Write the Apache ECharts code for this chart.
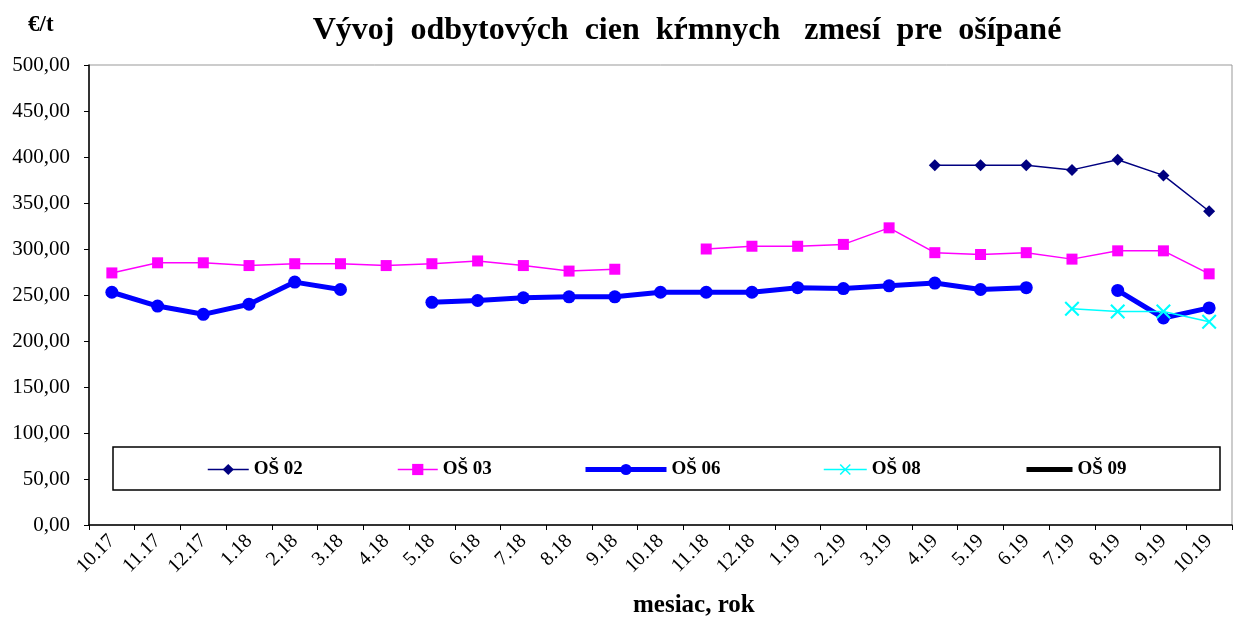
<!DOCTYPE html>
<html>
<head>
<meta charset="utf-8">
<script src="https://cdn.jsdelivr.net/npm/echarts@6/dist/echarts.min.js"></script>
<style>html,body{margin:0;padding:0;background:#fff;}#c{width:1235px;height:621px;}</style>
</head>
<body>
<div id="c"></div>
<script>
const categories = ['10.17','11.17','12.17','1.18','2.18','3.18','4.18','5.18','6.18','7.18','8.18','9.18','10.18','11.18','12.18','1.19','2.19','3.19','4.19','5.19','6.19','7.19','8.19','9.19','10.19'];
const os02 = [null,null,null,null,null,null,null,null,null,null,null,null,null,null,null,null,null,null,391,391,391,386,397,380,341];
const os03 = [274,285,285,282,284,284,282,284,287,282,276,278,null,300,303,303,305,323,296,294,296,289,298,298,273];
const os06 = [253,238,229,240,264,256,null,242,244,247,248,248,253,253,253,258,257,260,263,256,258,null,255,225,236];
const os08 = [null,null,null,null,null,null,null,null,null,null,null,null,null,null,null,null,null,null,null,null,null,235,232,232,221];
const os09 = [null,null,null,null,null,null,null,null,null,null,null,null,null,null,null,null,null,null,null,null,null,null,null,null,null];
const seriesNames = ['OŠ 02','OŠ 03','OŠ 06','OŠ 08','OŠ 09'];
const yTicks = {min:0,max:500,interval:50};

const serif = '"Liberation Serif","Times New Roman",serif';
const crossPath = 'path://M0,1 L1,0 L5,4 L9,0 L10,1 L6,5 L10,9 L9,10 L5,6 L1,10 L0,9 L4,5 Z';

const chart = echarts.init(document.getElementById('c'), null, {renderer:'canvas'});
const legendCfg = [
  {left:207, w:41, lw:1.5},
  {left:397, w:40, lw:1.5},
  {left:583, w:81, lw:5},
  {left:823, w:43, lw:1.5},
  {left:1024, w:46, lw:5, hideMark:true}
];
const legends = seriesNames.map((n,i)=>{
  const c = legendCfg[i];
  const item = {name:n};
  if (c.hideMark) item.itemStyle = {opacity:0};
  return {
    data:[item], left:c.left, top:460, orient:'horizontal', z:10,
    itemWidth:c.w, itemHeight:14, padding:0, itemGap:0,
    lineStyle:{width:c.lw},
    textStyle:{fontFamily:serif, fontWeight:'bold', fontSize:19, color:'#000'}
  };
});
chart.setOption({
  animation:false,
  backgroundColor:'#fff',
  title:{text:'Vývoj  odbytových  cien  kŕmnych   zmesí  pre  ošípané', left:682, textAlign:'center', top:10,
    textStyle:{fontFamily:serif, fontWeight:'bold', fontSize:32, color:'#000'}},
  graphic:[
    {type:'text', left:28, top:14, style:{text:'€/t', font:'bold 23px '+serif, fill:'#000'}},
    {type:'text', left:633, top:593, style:{text:'mesiac, rok', font:'bold 25px '+serif, fill:'#000'}},
    {type:'rect', shape:{x:113, y:447, width:1107, height:43}, style:{fill:'#fff', stroke:'#000', lineWidth:1.5}, z:0}
  ],
  legend: legends,
  grid:{left:89, right:3, top:65, bottom:96, show:true, borderColor:'#999', borderWidth:1, containLabel:false},
  xAxis:{type:'category', data:categories, boundaryGap:true,
    axisLine:{lineStyle:{color:'#000', width:1.5}},
    axisTick:{show:true, length:5, inside:false, lineStyle:{color:'#000'}},
    axisLabel:{rotate:45, fontFamily:serif, fontSize:20, color:'#000', margin:13, interval:0},
    splitLine:{show:false}},
  yAxis:{type:'value', min:yTicks.min, max:yTicks.max, interval:yTicks.interval,
    axisLine:{show:true, lineStyle:{color:'#000', width:1.5}},
    axisTick:{show:true, length:5, lineStyle:{color:'#000'}},
    axisLabel:{fontFamily:serif, fontSize:21, color:'#000', margin:19,
      formatter:v=>v.toFixed(2).replace('.',',')},
    splitLine:{show:false}},
  series:[
    {name:seriesNames[0], type:'line', data:os02, connectNulls:false, symbol:'diamond', symbolSize:12,
      itemStyle:{color:'#000080'}, lineStyle:{color:'#000080', width:1.5}, z:3},
    {name:seriesNames[1], type:'line', data:os03, connectNulls:false, symbol:'rect', symbolSize:11,
      itemStyle:{color:'#FF00FF'}, lineStyle:{color:'#FF00FF', width:1.5}, z:3},
    {name:seriesNames[2], type:'line', data:os06, connectNulls:false, symbol:'circle', symbolSize:13,
      itemStyle:{color:'#0000FF'}, lineStyle:{color:'#0000FF', width:5}, z:3},
    {name:seriesNames[3], type:'line', data:os08, connectNulls:false, symbol:crossPath, symbolSize:15,
      itemStyle:{color:'#00FFFF'}, lineStyle:{color:'#00FFFF', width:1.5}, z:4},
    {name:seriesNames[4], type:'line', data:os09, connectNulls:false, symbol:'circle', symbolSize:3,
      itemStyle:{color:'#000'}, lineStyle:{color:'#000', width:4}, z:3}
  ]
});
</script>
</body>
</html>
